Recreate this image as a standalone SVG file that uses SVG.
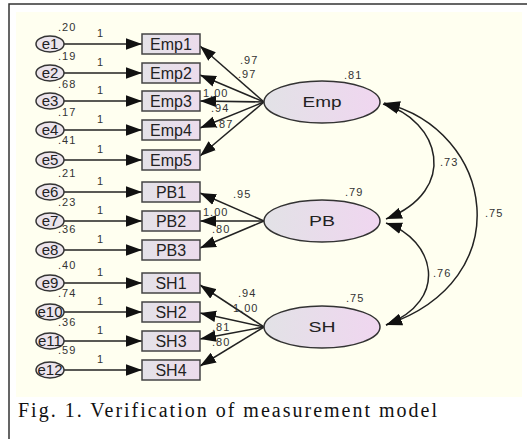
<svg xmlns="http://www.w3.org/2000/svg" width="527" height="439" viewBox="0 0 527 439">
<defs>
<linearGradient id="gBox" x1="0" y1="0" x2="1" y2="0"><stop offset="0" stop-color="#e4e2e8"/><stop offset="1" stop-color="#ecdcec"/></linearGradient>
<linearGradient id="gLat" x1="0" y1="0" x2="1" y2="0"><stop offset="0" stop-color="#e2e2e6"/><stop offset="1" stop-color="#f0d6f0"/></linearGradient>
<marker id="ah" markerUnits="userSpaceOnUse" markerWidth="16" markerHeight="12" refX="14" refY="5" orient="auto-start-reverse" viewBox="0 0 14 10"><path d="M0,0 L14,5 L0,10 z" fill="#111"/></marker>
</defs>
<style>
.box{fill:url(#gBox);stroke:#444;stroke-width:1.5}
.err{fill:#ebe4ec;stroke:#333;stroke-width:1.5}
.lat{fill:url(#gLat);stroke:#333;stroke-width:1.5}
.ln{fill:none;stroke:#222;stroke-width:1.5;marker-end:url(#ah)}
.cov{fill:none;stroke:#222;stroke-width:1.5;marker-start:url(#ah);marker-end:url(#ah)}
.t{font-family:"Liberation Sans",Arial,sans-serif;fill:#222}
.bl{font-size:16px;text-anchor:middle}
.el{font-size:15px;text-anchor:middle}
.n{font-size:11px;letter-spacing:1px;fill:#333}
.cap{font-family:"Liberation Serif","Times New Roman",serif;font-size:20px;fill:#111}
</style>
<rect x="9" y="4" width="530" height="450" fill="#fff" stroke="#333" stroke-width="1.5"/>
<rect x="16" y="12" width="506" height="385" fill="#fffff0"/>

<g id="connectors">
<line class="ln" x1="64" y1="44" x2="142" y2="44"/>
<line class="ln" x1="64" y1="73" x2="142" y2="73"/>
<line class="ln" x1="64" y1="101" x2="142" y2="101"/>
<line class="ln" x1="64" y1="130" x2="142" y2="130"/>
<line class="ln" x1="64" y1="160" x2="142" y2="160"/>
<line class="ln" x1="64" y1="192" x2="142" y2="192"/>
<line class="ln" x1="64" y1="221" x2="142" y2="221"/>
<line class="ln" x1="64" y1="250" x2="142" y2="250"/>
<line class="ln" x1="64" y1="283" x2="142" y2="283"/>
<line class="ln" x1="64" y1="312" x2="142" y2="312"/>
<line class="ln" x1="64" y1="341" x2="142" y2="341"/>
<line class="ln" x1="64" y1="370" x2="142" y2="370"/>
<line class="ln" x1="264" y1="102" x2="200" y2="46"/>
<line class="ln" x1="264" y1="102" x2="200" y2="75"/>
<line class="ln" x1="264" y1="102" x2="200" y2="101"/>
<line class="ln" x1="264" y1="102" x2="200" y2="128"/>
<line class="ln" x1="264" y1="102" x2="200" y2="156"/>
<line class="ln" x1="264" y1="221" x2="200" y2="193"/>
<line class="ln" x1="264" y1="221" x2="200" y2="221"/>
<line class="ln" x1="264" y1="221" x2="200" y2="248"/>
<line class="ln" x1="264" y1="327" x2="200" y2="285"/>
<line class="ln" x1="264" y1="327" x2="200" y2="313"/>
<line class="ln" x1="264" y1="327" x2="200" y2="339"/>
<line class="ln" x1="264" y1="327" x2="200" y2="366"/>
<path class="cov" d="M383,104 C440,120 460,190 386,219"/>
<path class="cov" d="M384,103 C495,130 520,280 386,325"/>
<path class="cov" d="M386,223 C435,240 450,300 386,325"/>
<g class="t n">
<text x="97" y="37">1</text><text x="97" y="66">1</text><text x="97" y="94">1</text><text x="97" y="123">1</text><text x="97" y="153">1</text>
<text x="97" y="185">1</text><text x="97" y="214">1</text><text x="97" y="243">1</text><text x="97" y="276">1</text>
<text x="97" y="305">1</text><text x="97" y="334">1</text><text x="97" y="363">1</text>
<text x="240" y="64">.97</text><text x="238" y="78">.97</text><text x="203" y="97">1.00</text><text x="211" y="112">.94</text><text x="215" y="128">.87</text>
<text x="233" y="198">.95</text><text x="203" y="216">1.00</text><text x="212" y="233">.80</text>
<text x="238" y="297">.94</text><text x="233" y="312">1.00</text><text x="212" y="331">.81</text><text x="212" y="346">.80</text>
<text x="440" y="166">.73</text><text x="485" y="217">.75</text><text x="433" y="277">.76</text>
</g>
</g>

<g id="e1"><ellipse class="err" cx="50" cy="44" rx="14" ry="8"/><text class="t el" x="50" y="49">e1</text><text class="t n" x="58" y="31">.20</text></g>
<g id="e2"><ellipse class="err" cx="50" cy="73" rx="14" ry="8"/><text class="t el" x="50" y="78">e2</text><text class="t n" x="58" y="60">.19</text></g>
<g id="e3"><ellipse class="err" cx="50" cy="101" rx="14" ry="8"/><text class="t el" x="50" y="106">e3</text><text class="t n" x="58" y="88">.68</text></g>
<g id="e4"><ellipse class="err" cx="50" cy="130" rx="14" ry="8"/><text class="t el" x="50" y="135">e4</text><text class="t n" x="58" y="116">.17</text></g>
<g id="e5"><ellipse class="err" cx="50" cy="160" rx="14" ry="8"/><text class="t el" x="50" y="165">e5</text><text class="t n" x="58" y="144">.41</text></g>
<g id="e6"><ellipse class="err" cx="50" cy="192" rx="14" ry="8"/><text class="t el" x="50" y="197">e6</text><text class="t n" x="58" y="177">.21</text></g>
<g id="e7"><ellipse class="err" cx="50" cy="221" rx="14" ry="8"/><text class="t el" x="50" y="226">e7</text><text class="t n" x="58" y="206">.23</text></g>
<g id="e8"><ellipse class="err" cx="50" cy="250" rx="14" ry="8"/><text class="t el" x="50" y="255">e8</text><text class="t n" x="58" y="233">.36</text></g>
<g id="e9"><ellipse class="err" cx="50" cy="283" rx="14" ry="8"/><text class="t el" x="50" y="288">e9</text><text class="t n" x="58" y="269">.40</text></g>
<g id="e10"><ellipse class="err" cx="50" cy="312" rx="14" ry="8"/><text class="t el" x="50" y="317">e10</text><text class="t n" x="58" y="297">.74</text></g>
<g id="e11"><ellipse class="err" cx="50" cy="341" rx="14" ry="8"/><text class="t el" x="50" y="346">e11</text><text class="t n" x="58" y="326">.36</text></g>
<g id="e12"><ellipse class="err" cx="50" cy="370" rx="14" ry="8"/><text class="t el" x="50" y="375">e12</text><text class="t n" x="58" y="354">.59</text></g>

<g id="Emp1"><rect class="box" x="142" y="34" width="58" height="20"/><text class="t bl" x="171" y="50">Emp1</text></g>
<g id="Emp2"><rect class="box" x="142" y="63" width="58" height="20"/><text class="t bl" x="171" y="79">Emp2</text></g>
<g id="Emp3"><rect class="box" x="142" y="91" width="58" height="20"/><text class="t bl" x="171" y="107">Emp3</text></g>
<g id="Emp4"><rect class="box" x="142" y="120" width="58" height="20"/><text class="t bl" x="171" y="136">Emp4</text></g>
<g id="Emp5"><rect class="box" x="142" y="150" width="58" height="20"/><text class="t bl" x="171" y="166">Emp5</text></g>
<g id="PB1"><rect class="box" x="142" y="182" width="58" height="20"/><text class="t bl" x="171" y="198">PB1</text></g>
<g id="PB2"><rect class="box" x="142" y="211" width="58" height="20"/><text class="t bl" x="171" y="227">PB2</text></g>
<g id="PB3"><rect class="box" x="142" y="240" width="58" height="20"/><text class="t bl" x="171" y="256">PB3</text></g>
<g id="SH1"><rect class="box" x="142" y="273" width="58" height="20"/><text class="t bl" x="171" y="289">SH1</text></g>
<g id="SH2"><rect class="box" x="142" y="302" width="58" height="20"/><text class="t bl" x="171" y="318">SH2</text></g>
<g id="SH3"><rect class="box" x="142" y="331" width="58" height="20"/><text class="t bl" x="171" y="347">SH3</text></g>
<g id="SH4"><rect class="box" x="142" y="360" width="58" height="20"/><text class="t bl" x="171" y="376">SH4</text></g>

<g id="Emp"><ellipse class="lat" cx="322" cy="102" rx="58" ry="21"/><text class="t" x="322" y="107" font-size="14" text-anchor="middle" textLength="39" lengthAdjust="spacingAndGlyphs">Emp</text><text class="t n" x="344" y="79">.81</text></g>
<g id="PB"><ellipse class="lat" cx="322" cy="221" rx="58" ry="21"/><text class="t" x="322" y="226" font-size="14" text-anchor="middle" textLength="26" lengthAdjust="spacingAndGlyphs">PB</text><text class="t n" x="345" y="196">.79</text></g>
<g id="SH"><ellipse class="lat" cx="322" cy="327" rx="58" ry="21"/><text class="t" x="322" y="332" font-size="14" text-anchor="middle" textLength="27" lengthAdjust="spacingAndGlyphs">SH</text><text class="t n" x="346" y="302">.75</text></g>

<text class="cap" x="18" y="417" textLength="419" lengthAdjust="spacing">Fig. 1. Verification of measurement model</text>
</svg>
